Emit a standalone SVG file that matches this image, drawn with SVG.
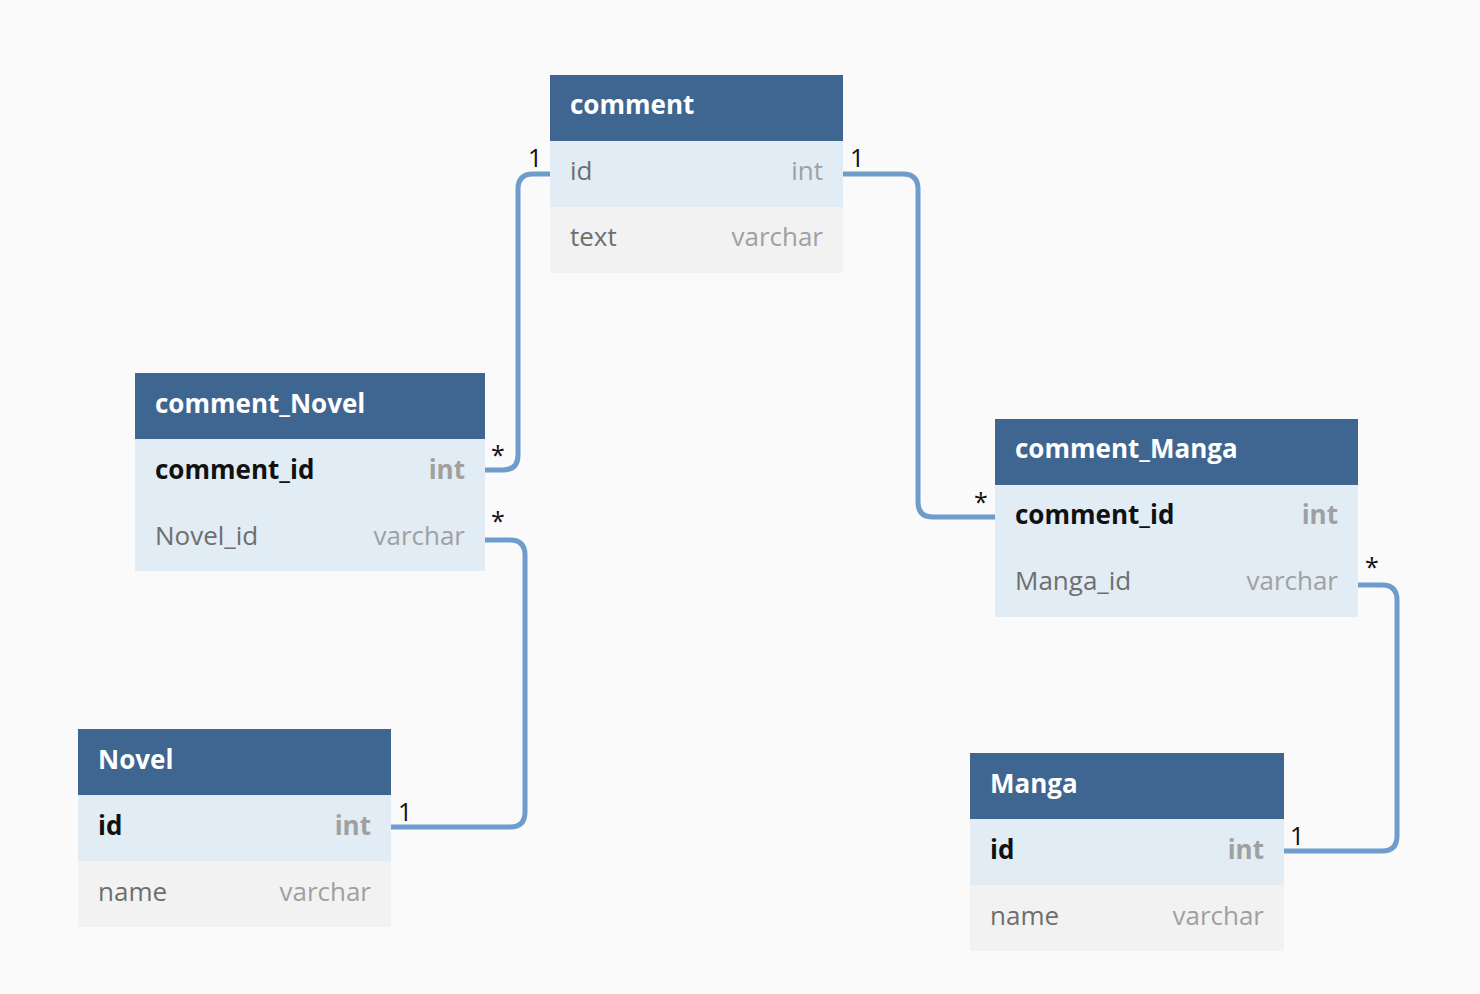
<svg xmlns="http://www.w3.org/2000/svg" width="1480" height="994" viewBox="0 0 1480 994">
<style>
.hd{fill:#3e6690}
.pk{fill:#e1ecf4}
.rw{fill:#f2f2f2}
.ht{font-family:"Open Sans","Liberation Sans",sans-serif;font-size:26px;font-weight:bold;fill:#ffffff}
.fn{font-family:"Open Sans","Liberation Sans",sans-serif;font-size:26px;fill:#6e6e6e}
.fb{font-family:"Open Sans","Liberation Sans",sans-serif;font-size:26px;font-weight:bold;fill:#111111}
.ty{font-family:"Open Sans","Liberation Sans",sans-serif;font-size:26px;fill:#a0a0a0;text-anchor:end}
.tb{font-family:"Open Sans","Liberation Sans",sans-serif;font-size:26px;font-weight:bold;fill:#a0a0a0;text-anchor:end}
.cn{fill:none;stroke:#6e9ccb;stroke-width:5}
.lb{font-family:"Open Sans","Liberation Sans",sans-serif;font-size:25px;fill:#111111}
</style>
<rect width="1480" height="994" fill="#fafafa"/>
<g id="connectors">
<path class="cn" d="M550,174 H533 Q518,174 518,189 V455 Q518,470 503,470 H485"/>
<path class="cn" d="M843,174 H903 Q918,174 918,189 V502 Q918,517 933,517 H995"/>
<path class="cn" d="M485,540 H510 Q525,540 525,555 V812 Q525,827 510,827 H391"/>
<path class="cn" d="M1358,585 H1382 Q1397,585 1397,600 V836 Q1397,851 1382,851 H1284"/>
<text class="lb" x="528" y="167">1</text>
<text class="lb" x="850" y="167">1</text>
<text class="lb" x="491" y="464">*</text>
<text class="lb" x="974" y="511">*</text>
<text class="lb" x="491" y="530">*</text>
<text class="lb" x="398" y="821">1</text>
<text class="lb" x="1365" y="576">*</text>
<text class="lb" x="1290" y="845">1</text>
</g>
<g id="comment">
<rect class="hd" x="550" y="75" width="293" height="66"/>
<rect class="pk" x="550" y="141" width="293" height="66"/>
<rect class="rw" x="550" y="207" width="293" height="66"/>
<text class="ht" x="570" y="114">comment</text>
<text class="fn" x="570" y="180">id</text>
<text class="ty" x="823" y="180">int</text>
<text class="fn" x="570" y="246">text</text>
<text class="ty" x="823" y="246">varchar</text>
</g>
<g id="comment_Novel">
<rect class="hd" x="135" y="373" width="350" height="66"/>
<rect class="pk" x="135" y="439" width="350" height="132"/>
<text class="ht" x="155" y="413">comment_Novel</text>
<text class="fb" x="155" y="479">comment_id</text>
<text class="tb" x="465" y="479">int</text>
<text class="fn" x="155" y="545">Novel_id</text>
<text class="ty" x="465" y="545">varchar</text>
</g>
<g id="comment_Manga">
<rect class="hd" x="995" y="419" width="363" height="66"/>
<rect class="pk" x="995" y="485" width="363" height="132"/>
<text class="ht" x="1015" y="458">comment_Manga</text>
<text class="fb" x="1015" y="524">comment_id</text>
<text class="tb" x="1338" y="524">int</text>
<text class="fn" x="1015" y="590">Manga_id</text>
<text class="ty" x="1338" y="590">varchar</text>
</g>
<g id="Novel">
<rect class="hd" x="78" y="729" width="313" height="66"/>
<rect class="pk" x="78" y="795" width="313" height="66"/>
<rect class="rw" x="78" y="861" width="313" height="66"/>
<text class="ht" x="98" y="769">Novel</text>
<text class="fb" x="98" y="835">id</text>
<text class="tb" x="371" y="835">int</text>
<text class="fn" x="98" y="901">name</text>
<text class="ty" x="371" y="901">varchar</text>
</g>
<g id="Manga">
<rect class="hd" x="970" y="753" width="314" height="66"/>
<rect class="pk" x="970" y="819" width="314" height="66"/>
<rect class="rw" x="970" y="885" width="314" height="66"/>
<text class="ht" x="990" y="793">Manga</text>
<text class="fb" x="990" y="859">id</text>
<text class="tb" x="1264" y="859">int</text>
<text class="fn" x="990" y="925">name</text>
<text class="ty" x="1264" y="925">varchar</text>
</g>
</svg>
